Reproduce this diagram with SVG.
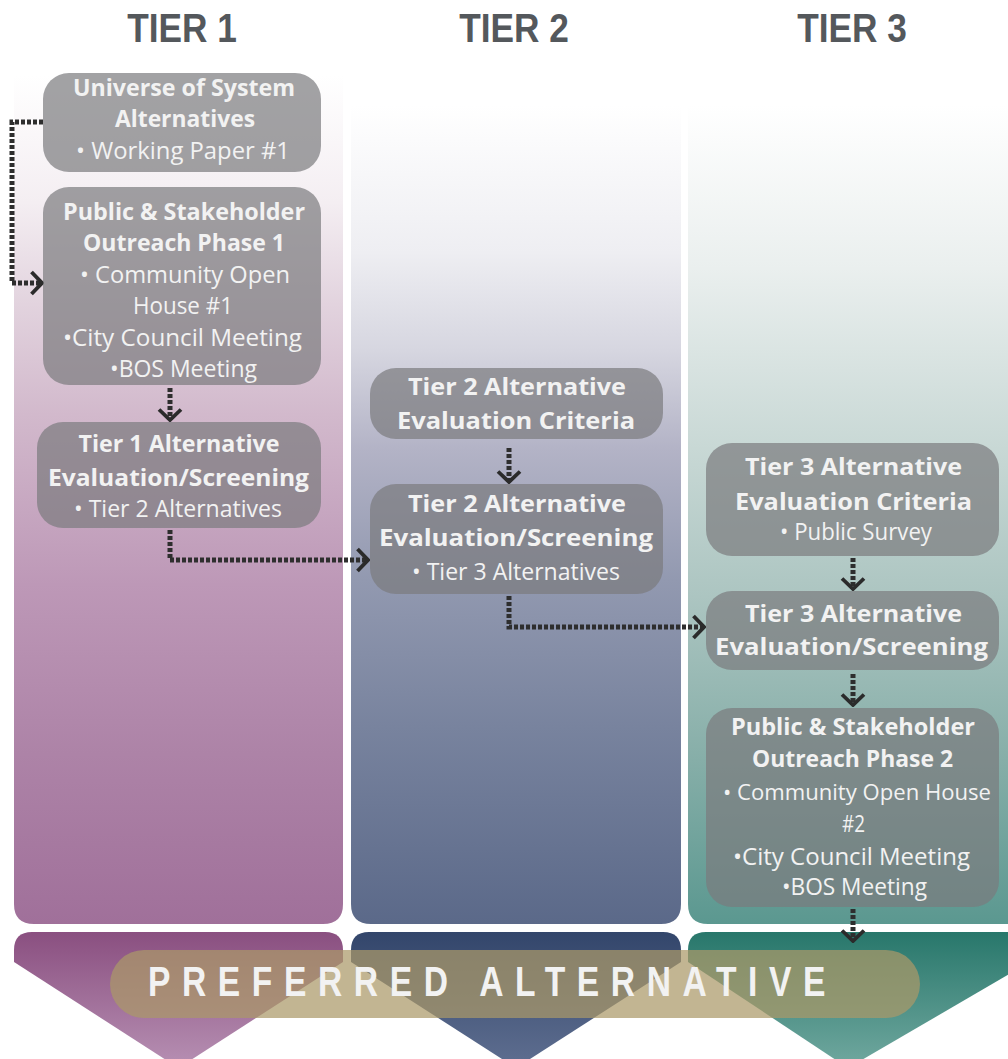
<svg xmlns="http://www.w3.org/2000/svg" width="1008" height="1059" viewBox="0 0 1008 1059">
<defs>
<linearGradient id="g1" gradientUnits="userSpaceOnUse" x1="0" y1="75" x2="0" y2="924">
<stop offset="0" stop-color="#ffffff"/>
<stop offset="0.15" stop-color="#f4eef2"/>
<stop offset="0.27" stop-color="#e2d3de"/>
<stop offset="0.4" stop-color="#d2b9cc"/>
<stop offset="0.6" stop-color="#bd98b7"/>
<stop offset="0.8" stop-color="#ad83a7"/>
<stop offset="1" stop-color="#a0709a"/>
</linearGradient>
<linearGradient id="g2" gradientUnits="userSpaceOnUse" x1="0" y1="105" x2="0" y2="924">
<stop offset="0" stop-color="#ffffff"/>
<stop offset="0.18" stop-color="#eeeef2"/>
<stop offset="0.3" stop-color="#d6d6e0"/>
<stop offset="0.42" stop-color="#b3b3c6"/>
<stop offset="0.58" stop-color="#9299b0"/>
<stop offset="0.76" stop-color="#78839e"/>
<stop offset="1" stop-color="#5b6989"/>
</linearGradient>
<linearGradient id="g3" gradientUnits="userSpaceOnUse" x1="0" y1="105" x2="0" y2="924">
<stop offset="0" stop-color="#ffffff"/>
<stop offset="0.2" stop-color="#eaefee"/>
<stop offset="0.42" stop-color="#c8d8d5"/>
<stop offset="0.6" stop-color="#acc5c1"/>
<stop offset="0.8" stop-color="#86aea8"/>
<stop offset="1" stop-color="#5b9890"/>
</linearGradient>
<linearGradient id="b1" gradientUnits="userSpaceOnUse" x1="0" y1="932" x2="0" y2="1059">
<stop offset="0" stop-color="#8a4f80"/>
<stop offset="1" stop-color="#b48cb0"/>
</linearGradient>
<linearGradient id="b2" gradientUnits="userSpaceOnUse" x1="0" y1="932" x2="0" y2="1059">
<stop offset="0" stop-color="#33466b"/>
<stop offset="1" stop-color="#5c6c8e"/>
</linearGradient>
<linearGradient id="b3" gradientUnits="userSpaceOnUse" x1="0" y1="932" x2="0" y2="1059">
<stop offset="0" stop-color="#28776b"/>
<stop offset="1" stop-color="#6ca59c"/>
</linearGradient>
<marker id="arr" viewBox="0 0 14 26" refX="12" refY="13" markerWidth="14" markerHeight="26" markerUnits="userSpaceOnUse" orient="auto">
<path d="M1.5,2 L12,13 L1.5,24" fill="none" stroke="#2b2b2b" stroke-width="3.8"/>
</marker>
</defs>
<style>
.hdr{font-family:"Liberation Sans",Arial,sans-serif;font-weight:bold;font-size:41px;fill:#54585c;text-anchor:middle}
.box{fill:#7b7b7d;fill-opacity:0.7}
.t{font-family:"Open Sans","Liberation Sans",sans-serif;fill:#f2f2f2;text-anchor:middle}
.b{font-weight:bold;font-size:24px}
.r{font-size:24px}
.s{font-size:22px}
.c{fill:none;stroke:#2e2e2e;stroke-width:5;stroke-dasharray:4 2;marker-end:url(#arr)}
.pa{font-family:"Liberation Sans",Arial,sans-serif;font-weight:bold;font-size:42px;fill:#f2f2f2;letter-spacing:14.5px}
</style>
<rect width="1008" height="1059" fill="#ffffff"/>
<g id="headers">
<text class="hdr" transform="translate(182,42) scale(0.86,1)">TIER 1</text>
<text class="hdr" transform="translate(514,42) scale(0.86,1)">TIER 2</text>
<text class="hdr" transform="translate(852,42) scale(0.86,1)">TIER 3</text>
</g>
<g id="columns">
<path d="M14,75 H343 V904 Q343,924 323,924 H34 Q14,924 14,904 Z" fill="url(#g1)"/>
<path d="M351,105 H681 V904 Q681,924 661,924 H371 Q351,924 351,904 Z" fill="url(#g2)"/>
<path d="M688,105 H1030 V904 Q1030,924 1010,924 H708 Q688,924 688,904 Z" fill="url(#g3)"/>
</g>
<g id="chevrons">
<path d="M14,950 Q14,932 32,932 H325 Q343,932 343,950 V962 L178.5,1068 L14,962 Z" fill="url(#b1)"/>
<path d="M351,950 Q351,932 369,932 H663 Q681,932 681,950 V962 L516,1068 L351,962 Z" fill="url(#b2)"/>
<path d="M688,950 Q688,932 706,932 H1030 V962 L848,1068 L688,962 Z" fill="url(#b3)"/>
</g>
<g id="connectors">
<path class="c" d="M43,122 H12 V283 H42"/>
<path class="c" d="M170,388 V420"/>
<path class="c" d="M170,530 V560 H368"/>
<path class="c" d="M509,448 V482"/>
<path class="c" d="M509,596 V627 H704"/>
<path class="c" d="M853,558 V589"/>
<path class="c" d="M853,674 V705"/>
<path class="c" d="M853,909 V941"/>
</g>
<g id="n-universe">
<rect class="box" x="43" y="73" width="278" height="99" rx="26"/>
<text class="t b" x="184" y="96" textLength="222" lengthAdjust="spacingAndGlyphs">Universe of System</text>
<text class="t b" x="185" y="127" textLength="140" lengthAdjust="spacingAndGlyphs">Alternatives</text>
<text class="t r" x="183" y="159" textLength="214" lengthAdjust="spacingAndGlyphs">•  Working Paper #1</text>
</g>
<g id="n-outreach1">
<rect class="box" x="43" y="187" width="278" height="198" rx="26"/>
<text class="t b" x="184" y="220" textLength="242" lengthAdjust="spacingAndGlyphs">Public &amp; Stakeholder</text>
<text class="t b" x="184" y="251" textLength="202" lengthAdjust="spacingAndGlyphs">Outreach Phase 1</text>
<text class="t r" x="185" y="283" textLength="210" lengthAdjust="spacingAndGlyphs">• Community Open</text>
<text class="t r" x="183" y="314" textLength="100" lengthAdjust="spacingAndGlyphs">House #1</text>
<text class="t r" x="182.5" y="346" textLength="239" lengthAdjust="spacingAndGlyphs">•City Council Meeting</text>
<text class="t r" x="183.5" y="377" textLength="147" lengthAdjust="spacingAndGlyphs">•BOS Meeting</text>
</g>
<g id="n-tier1eval">
<rect class="box" x="37" y="422" width="284" height="106" rx="26"/>
<text class="t b" x="179" y="452" textLength="201" lengthAdjust="spacingAndGlyphs">Tier 1 Alternative</text>
<text class="t b" x="178.5" y="486" textLength="261" lengthAdjust="spacingAndGlyphs">Evaluation/Screening</text>
<text class="t r" x="178" y="517" textLength="208" lengthAdjust="spacingAndGlyphs">• Tier 2 Alternatives</text>
</g>
<g id="n-tier2crit">
<rect class="box" x="370" y="368" width="293" height="71" rx="26"/>
<text class="t b" x="517" y="395" textLength="218" lengthAdjust="spacingAndGlyphs">Tier 2 Alternative</text>
<text class="t b" x="516" y="429" textLength="238" lengthAdjust="spacingAndGlyphs">Evaluation Criteria</text>
</g>
<g id="n-tier2eval">
<rect class="box" x="370" y="484" width="293" height="110" rx="26"/>
<text class="t b" x="517" y="512" textLength="218" lengthAdjust="spacingAndGlyphs">Tier 2 Alternative</text>
<text class="t b" x="516" y="546" textLength="274" lengthAdjust="spacingAndGlyphs">Evaluation/Screening</text>
<text class="t r" x="516" y="580" textLength="208" lengthAdjust="spacingAndGlyphs">• Tier 3 Alternatives</text>
</g>
<g id="n-tier3crit">
<rect class="box" x="706" y="443" width="293" height="113" rx="26"/>
<text class="t b" x="853.5" y="475" textLength="217" lengthAdjust="spacingAndGlyphs">Tier 3 Alternative</text>
<text class="t b" x="853.5" y="510" textLength="237" lengthAdjust="spacingAndGlyphs">Evaluation Criteria</text>
<text class="t r" x="856" y="540" textLength="152" lengthAdjust="spacingAndGlyphs">• Public Survey</text>
</g>
<g id="n-tier3eval">
<rect class="box" x="706" y="591" width="293" height="79" rx="26"/>
<text class="t b" x="853.5" y="622" textLength="217" lengthAdjust="spacingAndGlyphs">Tier 3 Alternative</text>
<text class="t b" x="851.5" y="655" textLength="273" lengthAdjust="spacingAndGlyphs">Evaluation/Screening</text>
</g>
<g id="n-outreach2">
<rect class="box" x="706" y="708" width="293" height="199" rx="26"/>
<text class="t b" x="853" y="735" textLength="244" lengthAdjust="spacingAndGlyphs">Public &amp; Stakeholder</text>
<text class="t b" x="852.5" y="767" textLength="201" lengthAdjust="spacingAndGlyphs">Outreach Phase 2</text>
<text class="t s" x="857" y="800" textLength="268" lengthAdjust="spacingAndGlyphs">• Community Open House</text>
<text class="t r" x="853.5" y="832" textLength="23" lengthAdjust="spacingAndGlyphs">#2</text>
<text class="t r" x="851.5" y="865" textLength="237" lengthAdjust="spacingAndGlyphs">•City Council Meeting</text>
<text class="t r" x="854.5" y="895" textLength="145" lengthAdjust="spacingAndGlyphs">•BOS Meeting</text>
</g>
<g id="n-preferred">
<rect x="110" y="950" width="810" height="68" rx="34" fill="#ab9868" fill-opacity="0.72"/>
<text class="pa" transform="translate(148,996) scale(0.8,1)">PREFERRED  ALTERNATIVE</text>
</g>
</svg>
